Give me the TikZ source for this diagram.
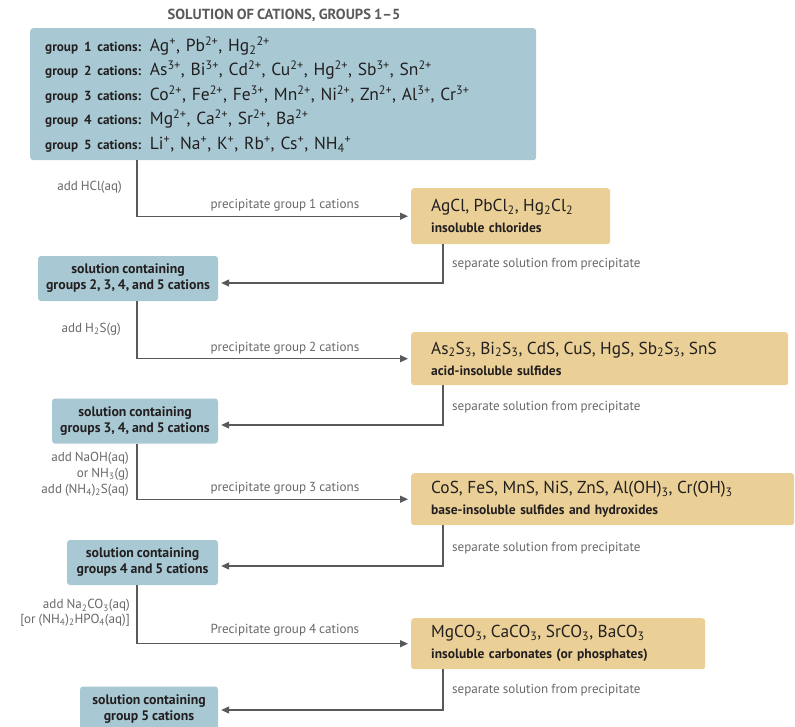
\documentclass[tikz,border=0pt]{standalone}
\usepackage{fontspec}
\setmainfont{PT Sans}[WordSpace=0.85]
\usetikzlibrary{arrows.meta}
\definecolor{boxblue}{RGB}{168,201,211}
\definecolor{boxamber}{RGB}{234,208,150}
\definecolor{linegray}{RGB}{88,89,91}
\definecolor{labelgray}{RGB}{105,105,105}
\definecolor{titlegray}{RGB}{90,90,92}
\definecolor{inkdark}{RGB}{35,31,32}
\newcommand{\csup}[1]{\textsuperscript{#1}}
\newcommand{\csub}[1]{\textsubscript{#1}}
\newcommand{\grp}[1]{{\fontsize{13.2}{15}\selectfont\bfseries #1}}
\begin{document}
\begin{tikzpicture}[x=1pt,y=-1pt,
  bluebox/.style={fill=boxblue, rounded corners=3pt, text=inkdark},
  smallbox/.style={bluebox, inner sep=0pt, minimum height=45pt, align=center,
    font=\fontsize{13.8}{16}\selectfont\bfseries},
  amberbox/.style={fill=boxamber, rounded corners=3pt, text=inkdark, anchor=north west,
    inner xsep=20pt, inner ysep=0pt, align=left, font=\fontsize{13.5}{21}\selectfont},
  conn/.style={draw=linegray, line width=1.2pt, -{Triangle[length=8pt,width=7pt]}, shorten >=3pt},
  lbl/.style={text=labelgray, inner sep=0pt, font=\fontsize{13.1}{16}\selectfont}]
\useasboundingbox (0,0) rectangle (795,726);
\fill[white] (0,0) rectangle (795,726);

\node[font=\fontsize{14.6}{16}\selectfont\bfseries, text=titlegray] (title) at (284,15) {SOLUTION OF CATIONS, GROUPS 1--5};

\node[bluebox, anchor=north west, minimum width=506pt, minimum height=132pt,
  text width=476pt, inner xsep=15pt, inner ysep=0pt, align=left,
  font=\fontsize{17.5}{24.5}\selectfont] (top) at (30,28)
 {\grp{group 1 cations:} Ag\csup{+}, Pb\csup{2+}, Hg\csub{2}\csup{2+}\\
  \grp{group 2 cations:} As\csup{3+}, Bi\csup{3+}, Cd\csup{2+}, Cu\csup{2+}, Hg\csup{2+}, Sb\csup{3+}, Sn\csup{2+}\\
  \grp{group 3 cations:} Co\csup{2+}, Fe\csup{2+}, Fe\csup{3+}, Mn\csup{2+}, Ni\csup{2+}, Zn\csup{2+}, Al\csup{3+}, Cr\csup{3+}\\
  \grp{group 4 cations:} Mg\csup{2+}, Ca\csup{2+}, Sr\csup{2+}, Ba\csup{2+}\\
  \grp{group 5 cations:} Li\csup{+}, Na\csup{+}, K\csup{+}, Rb\csup{+}, Cs\csup{+}, NH\csub{4}\csup{+}};

\node[smallbox, minimum width=180pt] (b2) at (128,278.5) {solution containing\\groups 2, 3, 4, and 5 cations};
\node[smallbox, minimum width=166pt] (b3) at (135,421) {solution containing\\groups 3, 4, and 5 cations};
\node[smallbox, minimum width=151pt] (b4) at (142.5,562.5) {solution containing\\groups 4 and 5 cations};
\node[smallbox, minimum width=138pt] (b5) at (149,709) {solution containing\\group 5 cations};

\node[amberbox, minimum width=199pt, minimum height=56pt, text width=159pt] (a1) at (411,188)
 {{\fontsize{17.3}{20}\selectfont AgCl, PbCl\csub{2}, Hg\csub{2}Cl\csub{2}}\\
  {\bfseries insoluble chlorides}};
\node[amberbox, minimum width=377pt, minimum height=53pt, text width=337pt] (a2) at (411,332)
 {{\fontsize{17.3}{20}\selectfont As\csub{2}S\csub{3}, Bi\csub{2}S\csub{3}, CdS, CuS, HgS, Sb\csub{2}S\csub{3}, SnS}\\
  {\bfseries acid-insoluble sulfides}};
\node[amberbox, minimum width=383pt, minimum height=52pt, text width=343pt] (a3) at (411,473)
 {{\fontsize{17.3}{20}\selectfont CoS, FeS, MnS, NiS, ZnS, Al(OH)\csub{3}, Cr(OH)\csub{3}}\\
  {\bfseries base-insoluble sulfides and hydroxides}};
\node[amberbox, minimum width=294pt, minimum height=51pt, text width=254pt] (a4) at (411,618)
 {{\fontsize{17.3}{20}\selectfont MgCO\csub{3}, CaCO\csub{3}, SrCO\csub{3}, BaCO\csub{3}}\\
  {\bfseries insoluble carbonates (or phosphates)}};

\coordinate (xL) at (137,0);
\coordinate (xR) at (443,0);

\draw[conn] (top.south -| xL) |- (a1.west);
\draw[conn] (a1.south -| xR) |- ([yshift=-4.5pt]b2.east);
\draw[conn] (b2.south -| xL) |- (a2.west);
\draw[conn] (a2.south -| xR) |- ([yshift=-4pt]b3.east);
\draw[conn] (b3.south -| xL) |- (a3.west);
\draw[conn] (a3.south -| xR) |- ([yshift=-3.5pt]b4.east);
\draw[conn] (b4.south -| xL) |- (a4.west);
\draw[conn] (a4.south -| xR) |- ([yshift=-1pt]b5.east);

\node[lbl, anchor=east] (l1) at (122,187) {add HCl(aq)};
\node[lbl, anchor=east] (l2) at (121,329) {add H\csub{2}S(g)};
\node[lbl, anchor=east, align=right] (l3) at (129,474) {add NaOH(aq)\\or NH\csub{3}(g)\\add (NH\csub{4})\csub{2}S(aq)};
\node[lbl, anchor=east, align=right, font=\fontsize{13.1}{14.5}\selectfont] (l4) at (130,613) {add Na\csub{2}CO\csub{3}(aq)\\{}[or (NH\csub{4})\csub{2}HPO\csub{4}(aq)]};

\node[lbl] (p1) at (285,205) {precipitate group 1 cations};
\node[lbl] (p2) at (285,348) {precipitate group 2 cations};
\node[lbl] (p3) at (285,488) {precipitate group 3 cations};
\node[lbl] (p4) at (285,630) {Precipitate group 4 cations};

\node[lbl, anchor=west] (s1) at (452,264) {separate solution from precipitate};
\node[lbl, anchor=west] (s2) at (452,407) {separate solution from precipitate};
\node[lbl, anchor=west] (s3) at (452,548) {separate solution from precipitate};
\node[lbl, anchor=west] (s4) at (452,690) {separate solution from precipitate};
\end{tikzpicture}
\end{document}
